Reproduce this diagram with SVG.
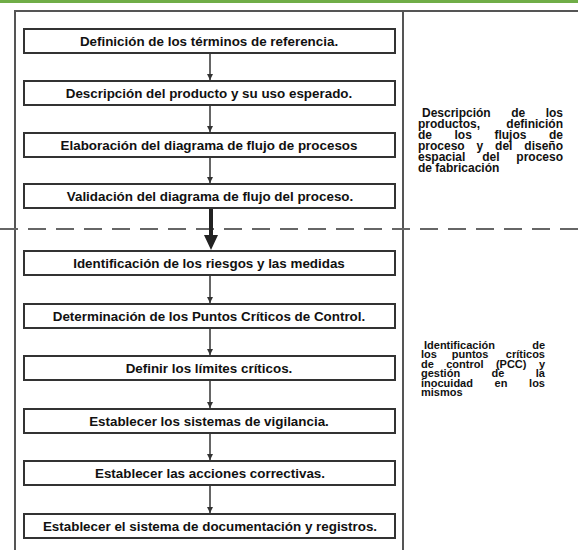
<svg xmlns="http://www.w3.org/2000/svg" width="578" height="550" viewBox="0 0 578 550">
<defs>
<style>
.box{fill:#fff;stroke:#333;stroke-width:2}
.bt{font-family:"Liberation Sans",Arial,sans-serif;font-weight:bold;font-size:13.4px;fill:#111;text-anchor:middle}
.side{font-family:"Liberation Sans",Arial,sans-serif;font-weight:bold;font-size:12px;fill:#111}
.s2{font-family:"Liberation Sans",Arial,sans-serif;font-weight:bold;font-size:11px;fill:#111}
.e{text-anchor:end}
.frame{stroke:#555;stroke-width:2;fill:none}
.conn{stroke:#333;stroke-width:1.5;fill:none}
</style>
<marker id="ah" viewBox="0 0 10 10" refX="10" refY="5" markerWidth="6" markerHeight="6" markerUnits="userSpaceOnUse" orient="auto">
<path d="M0,0 L10,5 L0,10 z" fill="#333"/>
</marker>
</defs>
<rect x="0" y="0" width="578" height="3" fill="#70ad47"/>
<g id="frame">
<path class="frame" d="M15,550 V11 H578"/>
<line class="frame" x1="403" y1="11" x2="403" y2="550"/>
<line x1="0" y1="229" x2="578" y2="229" stroke="#666" stroke-width="2" stroke-dasharray="18,10"/>
<path d="M35,138 V155 H42" stroke="#777" stroke-width="1" fill="none"/>
</g>
<g id="connectors">
<line class="conn" x1="210" y1="53" x2="210" y2="80" marker-end="url(#ah)"/>
<line class="conn" x1="210" y1="105" x2="210" y2="132" marker-end="url(#ah)"/>
<line class="conn" x1="210" y1="157" x2="210" y2="183" marker-end="url(#ah)"/>
<line x1="211" y1="208" x2="211" y2="237" stroke="#222" stroke-width="4"/>
<path d="M204,235 L218,235 L211,250 z" fill="#222"/>
<line class="conn" x1="210" y1="275" x2="210" y2="303" marker-end="url(#ah)"/>
<line class="conn" x1="210" y1="328" x2="210" y2="355" marker-end="url(#ah)"/>
<line class="conn" x1="210" y1="380" x2="210" y2="408" marker-end="url(#ah)"/>
<line class="conn" x1="210" y1="433" x2="210" y2="460" marker-end="url(#ah)"/>
<line class="conn" x1="210" y1="485" x2="210" y2="513" marker-end="url(#ah)"/>
</g>
<g id="n1"><rect class="box" x="24" y="29" width="371" height="24"/><text class="bt" x="209" y="46">Definición de los términos de referencia.</text></g>
<g id="n2"><rect class="box" x="24" y="81" width="371" height="24"/><text class="bt" x="209" y="98">Descripción del producto y su uso esperado.</text></g>
<g id="n3"><rect class="box" x="24" y="133" width="371" height="24"/><text class="bt" x="209" y="150">Elaboración del diagrama de flujo de procesos</text></g>
<g id="n4"><rect class="box" x="24" y="184" width="371" height="24"/><text class="bt" x="210" y="201">Validación del diagrama de flujo del proceso.</text></g>
<g id="n5"><rect class="box" x="24" y="251" width="371" height="24"/><text class="bt" x="209" y="268">Identificación de los riesgos y las medidas</text></g>
<g id="n6"><rect class="box" x="24" y="304" width="371" height="24"/><text class="bt" x="209" y="321">Determinación de los Puntos Críticos de Control.</text></g>
<g id="n7"><rect class="box" x="24" y="356" width="371" height="24"/><text class="bt" x="209" y="373">Definir los límites críticos.</text></g>
<g id="n8"><rect class="box" x="24" y="409" width="371" height="24"/><text class="bt" x="209" y="426">Establecer los sistemas de vigilancia.</text></g>
<g id="n9"><rect class="box" x="24" y="461" width="371" height="24"/><text class="bt" x="210" y="478">Establecer las acciones correctivas.</text></g>
<g id="n10"><rect class="box" x="24" y="514" width="371" height="24"/><text class="bt" x="210" y="531">Establecer el sistema de documentación y registros.</text></g>
<g id="side1">
<text class="side" x="422" y="117">Descripción</text><text class="side" x="511.2" y="117">de</text><text class="side e" x="563" y="117">los</text>
<text class="side" x="418" y="128">productos,</text><text class="side e" x="563" y="128">definición</text>
<text class="side" x="418" y="139">de</text><text class="side" x="454.5" y="139">los</text><text class="side" x="494.4" y="139">flujos</text><text class="side e" x="563" y="139">de</text>
<text class="side" x="418" y="150">proceso</text><text class="side" x="476.6" y="150">y</text><text class="side" x="495.1" y="150">del</text><text class="side e" x="563" y="150">diseño</text>
<text class="side" x="418" y="161">espacial</text><text class="side" x="482.2" y="161">del</text><text class="side e" x="563" y="161">proceso</text>
<text class="side" x="418" y="171.5">de fabricación</text>
</g>
<g id="side2">
<text class="s2" x="424" y="348.5">Identificación</text><text class="s2 e" x="545" y="348.5">de</text>
<text class="s2" x="421" y="358">los</text><text class="s2" x="451.8" y="358">puntos</text><text class="s2 e" x="545" y="358">críticos</text>
<text class="s2" x="421" y="367.5">de</text><text class="s2" x="446.2" y="367.5">control</text><text class="s2" x="495.9" y="367.5">(PCC)</text><text class="s2 e" x="545" y="367.5">y</text>
<text class="s2" x="421" y="377">gestión</text><text class="s2" x="491.6" y="377">de</text><text class="s2 e" x="545" y="377">la</text>
<text class="s2" x="421" y="386.5">inocuidad</text><text class="s2" x="494.6" y="386.5">en</text><text class="s2 e" x="545" y="386.5">los</text>
<text class="s2" x="421" y="396">mismos</text>
</g>
</svg>
